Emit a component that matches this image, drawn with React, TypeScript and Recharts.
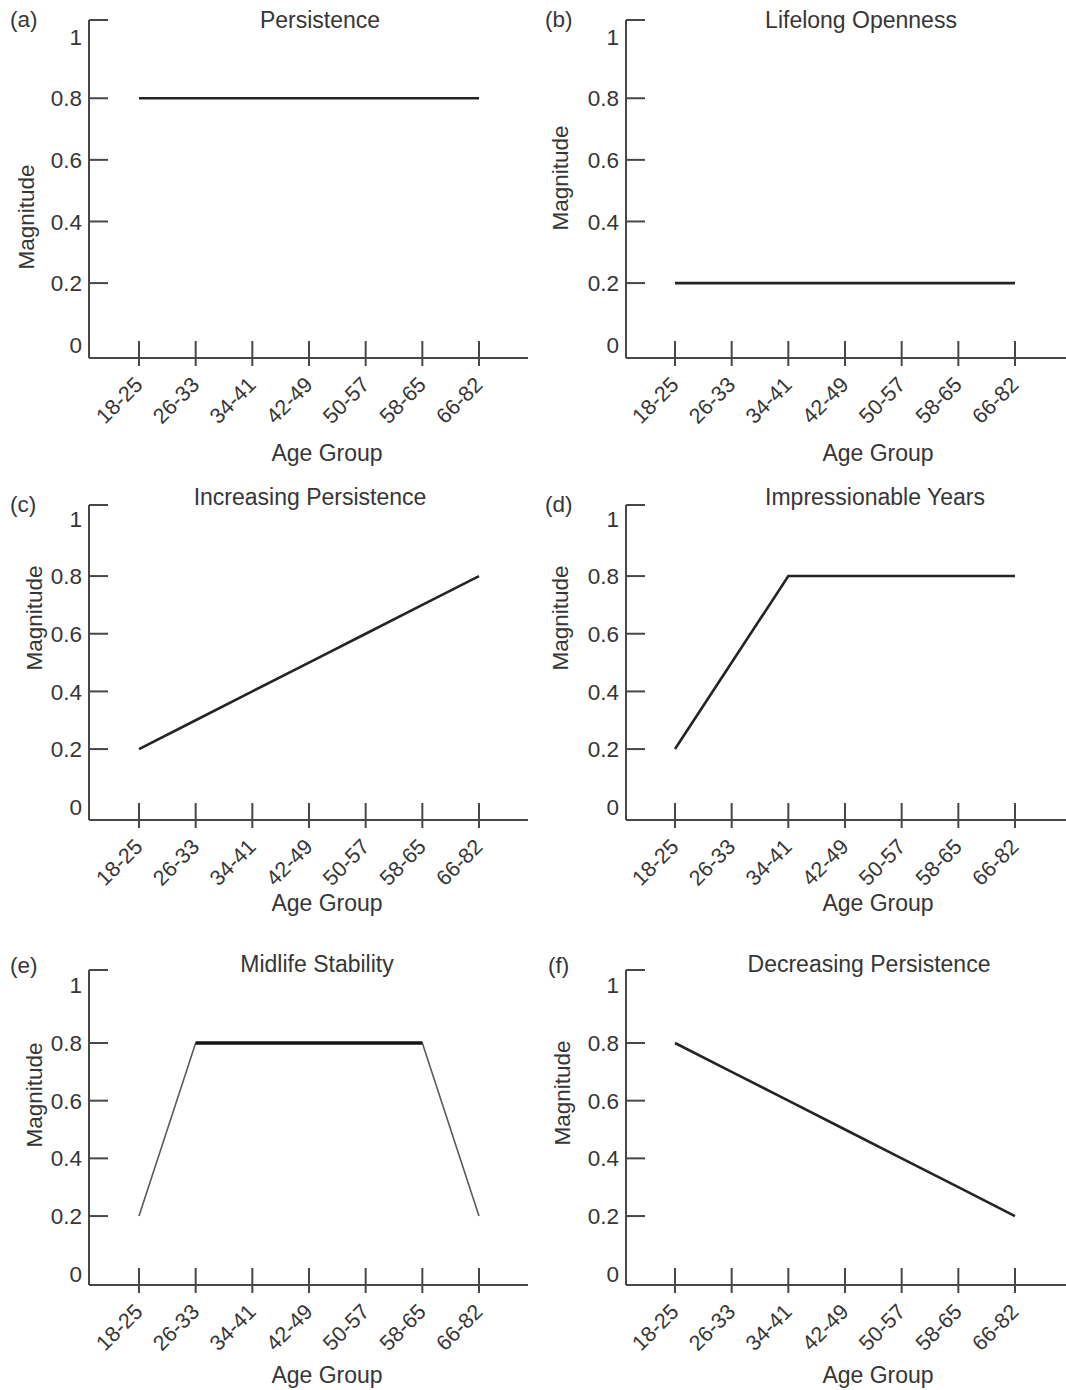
import { LineChart, Line, XAxis, YAxis, Label } from 'recharts'

// 六種年齡效應模型：各年齡組的影響幅度
const AGE_GROUPS = ['18-25', '26-33', '34-41', '42-49', '50-57', '58-65', '66-82']
const PERSISTENCE = [0.8, 0.8, 0.8, 0.8, 0.8, 0.8, 0.8]
const LIFELONG_OPENNESS = [0.2, 0.2, 0.2, 0.2, 0.2, 0.2, 0.2]
const INCREASING_PERSISTENCE = [0.2, 0.3, 0.4, 0.5, 0.6, 0.7, 0.8]
const IMPRESSIONABLE_YEARS = [0.2, 0.5, 0.8, 0.8, 0.8, 0.8, 0.8]
const MIDLIFE_STABILITY = [0.2, 0.8, 0.8, 0.8, 0.8, 0.8, 0.2]
const MIDLIFE_PLATEAU = [null, 0.8, 0.8, 0.8, 0.8, 0.8, null]
const DECREASING_PERSISTENCE = [0.8, 0.7, 0.6, 0.5, 0.4, 0.3, 0.2]
const Y_TICKS = [0, 0.2, 0.4, 0.6, 0.8, 1]

const FONT = "'Liberation Sans', Arial, Helvetica, sans-serif"
const TEXT = '#363636'
const AXIS = '#474747'

interface Series {
  values: (number | null)[]
  stroke: string
  width: number
}

interface Panel {
  letter: string
  title: string
  row: number
  col: number
  titleX: number
  letterX: number
  magX: number
  magY: number
  series: Series[]
}

// 版面：每列、每欄的位置
const ROWS = [
  { top: 0, height: 475, marginTop: 20, xAxisHeight: 117, domain: [-0.0432, 1.054], titleY: 20, letterY: 20, ageY: 453 },
  { top: 475, height: 465, marginTop: 30, xAxisHeight: 120, domain: [-0.046, 1.0465], titleY: 497, letterY: 505, ageY: 428 },
  { top: 940, height: 450, marginTop: 30, xAxisHeight: 105, domain: [-0.039, 1.053], titleY: 964, letterY: 966, ageY: 435 },
]
const COLS = [
  { left: 0, yAxisWidth: 89, marginRight: 5, padding: { left: 50, right: 49 }, ageX: 327 },
  { left: 533, yAxisWidth: 93, marginRight: 0, padding: { left: 49, right: 51 }, ageX: 345 },
]

const solid = (values: (number | null)[]): Series => ({ values, stroke: '#242424', width: 2.6 })

const PANELS: Panel[] = [
  { letter: '(a)', title: 'Persistence', row: 0, col: 0, titleX: 320, letterX: 10, magX: 26, magY: 217, series: [solid(PERSISTENCE)] },
  { letter: '(b)', title: 'Lifelong Openness', row: 0, col: 1, titleX: 861, letterX: 545, magX: 27, magY: 178, series: [solid(LIFELONG_OPENNESS)] },
  { letter: '(c)', title: 'Increasing Persistence', row: 1, col: 0, titleX: 310, letterX: 10, magX: 34, magY: 143, series: [solid(INCREASING_PERSISTENCE)] },
  { letter: '(d)', title: 'Impressionable Years', row: 1, col: 1, titleX: 875, letterX: 545, magX: 27, magY: 143, series: [solid(IMPRESSIONABLE_YEARS)] },
  {
    letter: '(e)', title: 'Midlife Stability', row: 2, col: 0, titleX: 317, letterX: 10, magX: 34, magY: 155,
    series: [
      { values: MIDLIFE_STABILITY, stroke: '#5a5a5a', width: 1.6 },
      { values: MIDLIFE_PLATEAU, stroke: '#151515', width: 3.5 },
    ],
  },
  { letter: '(f)', title: 'Decreasing Persistence', row: 2, col: 1, titleX: 869, letterX: 548, magX: 29, magY: 153, series: [solid(DECREASING_PERSISTENCE)] },
]

function makeYTick(top: number) {
  // eslint-disable-next-line @typescript-eslint/no-explicit-any
  return (props: any) => {
    const { x, y, payload } = props
    const v = payload.value
    if (v === top) {
      return <line x1={x} x2={x + 19} y1={y} y2={y} stroke={AXIS} strokeWidth={2} />
    }
    return (
      <g>
        {v > 0 && v < 1 && <line x1={x} x2={x + 19} y1={y} y2={y} stroke={AXIS} strokeWidth={2} />}
        <text x={x - 7} y={y} dy="0.36em" textAnchor="end" fontSize={22.5} fontFamily={FONT} fill={TEXT}>
          {String(v)}
        </text>
      </g>
    )
  }
}

// eslint-disable-next-line @typescript-eslint/no-explicit-any
function XTick(props: any) {
  const { x, y, payload } = props
  const tx = x + 5
  const ty = y + 28
  return (
    <g>
      <line x1={x} x2={x} y1={y - 17} y2={y + 8} stroke={AXIS} strokeWidth={2} />
      <text
        x={tx}
        y={ty}
        textAnchor="end"
        fontSize={21.5}
        fontFamily={FONT}
        fill={TEXT}
        transform={`rotate(-45 ${tx} ${ty})`}
      >
        {payload.value}
      </text>
    </g>
  )
}

function ModelPanel({ panel }: { panel: Panel }) {
  const row = ROWS[panel.row]
  const col = COLS[panel.col]
  const data = AGE_GROUPS.map((age, i) => {
    const point: Record<string, string | number | null> = { age }
    panel.series.forEach((s, k) => {
      point[`s${k}`] = s.values[i]
    })
    return point
  })

  return (
    <div style={{ position: 'absolute', left: col.left, top: row.top }}>
      <LineChart
        width={533}
        height={row.height}
        data={data}
        margin={{ top: row.marginTop, right: col.marginRight, left: 0, bottom: 0 }}
      >
        <XAxis
          dataKey="age"
          height={row.xAxisHeight}
          padding={col.padding}
          axisLine={{ stroke: AXIS, strokeWidth: 2 }}
          tickLine={false}
          tickSize={0}
          tickMargin={0}
          interval={0}
          tick={XTick}
        >
          <Label
            content={() => (
              <text
                x={col.ageX}
                y={row.ageY}
                dy="0.36em"
                textAnchor="middle"
                fontSize={23}
                fontFamily={FONT}
                fill={TEXT}
              >
                Age Group
              </text>
            )}
          />
        </XAxis>
        <YAxis
          type="number"
          width={col.yAxisWidth}
          domain={row.domain}
          ticks={[...Y_TICKS, row.domain[1]]}
          axisLine={{ stroke: AXIS, strokeWidth: 2 }}
          tickLine={false}
          tickSize={0}
          tickMargin={0}
          interval={0}
          tick={makeYTick(row.domain[1])}
        >
          <Label
            content={() => (
              <text
                x={panel.magX}
                y={panel.magY}
                dy="0.36em"
                textAnchor="middle"
                fontSize={22.5}
                fontFamily={FONT}
                fill={TEXT}
                transform={`rotate(-90 ${panel.magX} ${panel.magY})`}
              >
                Magnitude
              </text>
            )}
          />
        </YAxis>
        {panel.series.map((s, k) => (
          <Line
            key={k}
            type="linear"
            dataKey={`s${k}`}
            stroke={s.stroke}
            strokeWidth={s.width}
            dot={false}
            activeDot={false}
            connectNulls={false}
            isAnimationActive={false}
          />
        ))}
      </LineChart>
    </div>
  )
}

const headStyle = {
  position: 'absolute' as const,
  transform: 'translateY(-50%)',
  fontFamily: FONT,
  fontSize: 22.5,
  lineHeight: 1,
  color: TEXT,
  whiteSpace: 'nowrap' as const,
}

export default function App() {
  return (
    <div style={{ position: 'absolute', left: 0, top: 0, width: 1066, height: 1390, background: '#fff' }}>
      {PANELS.map(p => (
        <ModelPanel key={p.letter} panel={p} />
      ))}
      {PANELS.map(p => (
        <div key={`t${p.letter}`}>
          <div
            style={{ ...headStyle, fontSize: 23, left: p.titleX, top: ROWS[p.row].titleY, transform: 'translate(-50%, -50%)' }}
          >
            {p.title}
          </div>
          <div style={{ ...headStyle, left: p.letterX, top: ROWS[p.row].letterY }}>{p.letter}</div>
        </div>
      ))}
    </div>
  )
}
